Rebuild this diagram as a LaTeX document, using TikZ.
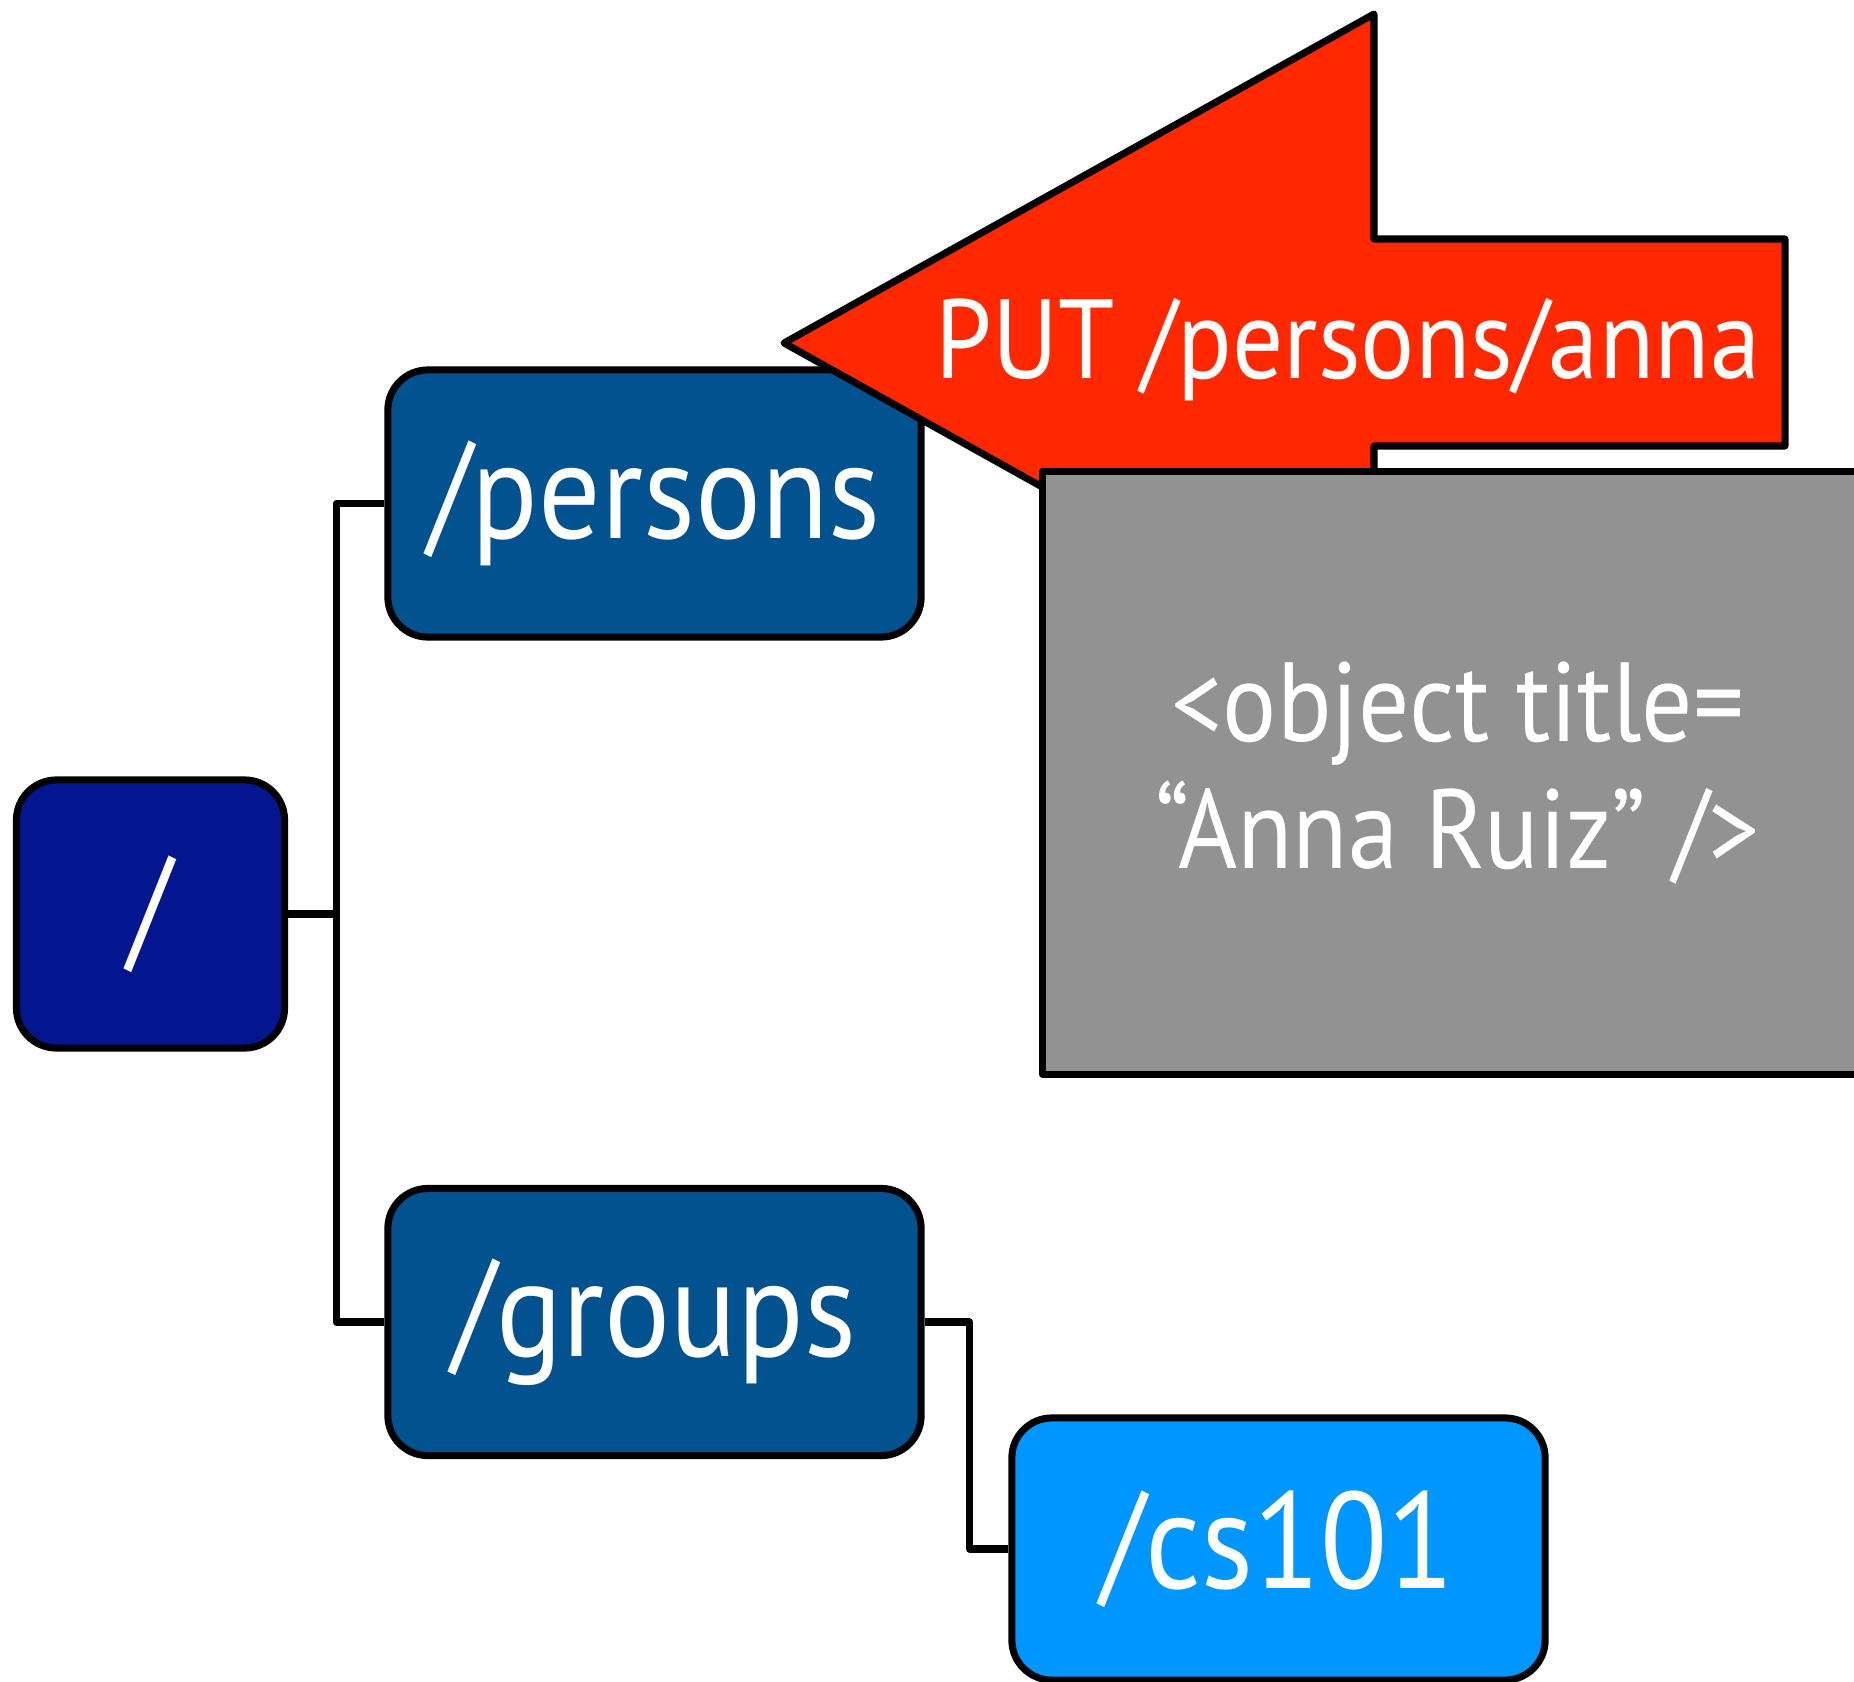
\documentclass[tikz,border=0pt]{standalone}
\usepackage{fontspec}
\setmainfont[FakeStretch=0.9]{PT Sans}
\definecolor{rootblue}{HTML}{04168F}
\definecolor{dirblue}{HTML}{035290}
\definecolor{leafblue}{HTML}{0096FF}
\definecolor{putred}{HTML}{FF2800}
\definecolor{objgray}{HTML}{929292}
\begin{document}
\begin{tikzpicture}[x=.01cm,y=-.01cm,line width=2pt,line join=round,
  dirbox/.style={draw,rounded corners=.4cm,text=white,inner sep=0pt,
    minimum width=5.33cm,minimum height=2.67cm,font=\fontsize{39}{43}\selectfont}]
  \clip (0,0) rectangle (1854,1682);
  \node[dirbox,fill=rootblue,minimum width=2.68cm,minimum height=2.68cm] (root) at (150.5,914) {/};
  \node[dirbox,fill=dirblue] (persons) at (654.5,503.5) {/persons};
  \node[dirbox,fill=dirblue] (groups) at (654.5,1322) {/groups};
  \node[dirbox,fill=leafblue,minimum height=2.62cm] (cs101) at (1278.5,1549) {/cs101};
  \draw (root.east) -- ++(48,0) coordinate (trunk) |- (persons.west);
  \draw (trunk) |- (groups.west);
  \draw (groups.east) -- ++(45,0) |- (cs101.west);
  \draw[fill=putred] (784,343) -- (1374,14) -- ++(0,225) -- ++(411,0) -- ++(0,207)
    -- ++(-411,0) -- (1374,672) -- cycle;
  \node[text=white,anchor=base,font=\fontsize{32}{36}\selectfont] (put) at (1348,378) {PUT /persons/anna};
  \node[draw,fill=objgray,text=white,align=center,minimum width=8.3cm,minimum height=6.02cm,
    font=\fontsize{32}{36}\selectfont] (obj) at (1458,773) {<object title=\\“Anna Ruiz” />};
\end{tikzpicture}
\end{document}
